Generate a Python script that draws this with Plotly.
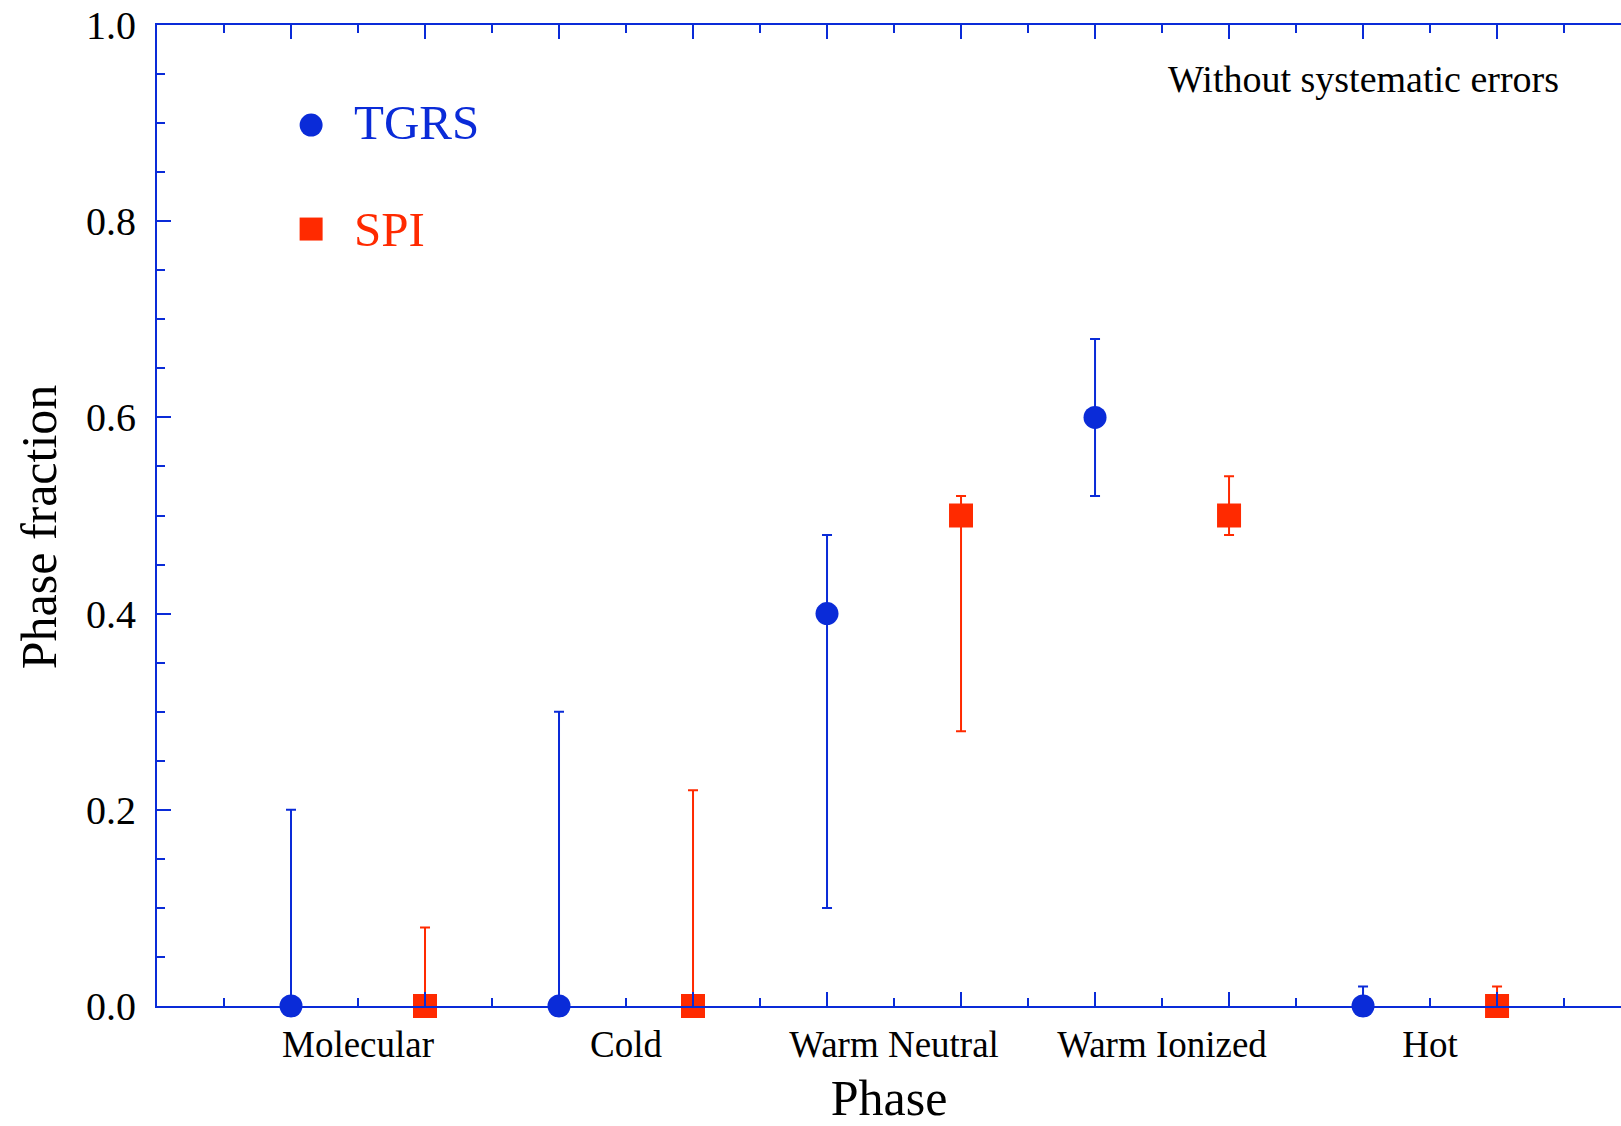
import plotly.graph_objects as go

# Phase categories and the x slots of each instrument's point within a category pair
phases = ["Molecular", "Cold", "Warm Neutral", "Warm Ionized", "Hot"]
tgrs_x = [1, 3, 5, 7, 9]
spi_x = [2, 4, 6, 8, 10]

# TGRS phase fractions with asymmetric uncertainties
tgrs_val = [0.0, 0.0, 0.40, 0.60, 0.0]
tgrs_err_plus = [0.20, 0.30, 0.08, 0.08, 0.02]
tgrs_err_minus = [0.0, 0.0, 0.30, 0.08, 0.0]

# SPI phase fractions with asymmetric uncertainties
spi_val = [0.0, 0.0, 0.50, 0.50, 0.0]
spi_err_plus = [0.08, 0.22, 0.02, 0.04, 0.02]
spi_err_minus = [0.0, 0.0, 0.22, 0.02, 0.0]

# Category label positions (between the two instruments) and y tick values
label_pos = [1.5, 3.5, 5.5, 7.5, 9.5]
y_ticks = [0.0, 0.2, 0.4, 0.6, 0.8, 1.0]

BLUE = "#0a2bd8"
RED = "#ff2a00"
AXIS = "#0a2bd8"
FONT = "Liberation Serif"

fig = go.Figure()

fig.add_trace(go.Scatter(
    x=tgrs_x, y=tgrs_val, mode="markers", name="TGRS",
    marker=dict(symbol="circle", size=23, color=BLUE, line=dict(width=0)),
    error_y=dict(type="data", symmetric=False, array=tgrs_err_plus,
                 arrayminus=tgrs_err_minus, color=BLUE, thickness=2, width=5),
    cliponaxis=False, showlegend=False,
))
fig.add_trace(go.Scatter(
    x=spi_x, y=spi_val, mode="markers", name="SPI",
    marker=dict(symbol="square", size=24, color=RED, line=dict(width=0)),
    error_y=dict(type="data", symmetric=False, array=spi_err_plus,
                 arrayminus=spi_err_minus, color=RED, thickness=2, width=5),
    cliponaxis=False, showlegend=False,
))

# Ticks every half unit on x; only the pair centres carry a phase name
half_vals = [i + 0.5 for i in range(11)]
half_text = []
for v in half_vals:
    half_text.append(phases[label_pos.index(v)] if v in label_pos else "")

fig.update_layout(
    width=1621, height=1126,
    margin=dict(l=157, r=0, t=25, b=120),
    paper_bgcolor="white", plot_bgcolor="white",
    font=dict(family=FONT, color="black", size=37),
    xaxis=dict(
        range=[0, 10.925], showgrid=False, zeroline=False, automargin=False,
        showline=True, linecolor=AXIS, linewidth=2, mirror="ticks",
        tickmode="array", tickvals=half_vals, ticktext=half_text,
        ticks="inside", ticklen=8, tickwidth=2, tickcolor=AXIS,
        ticklabelstandoff=5,
        tickfont=dict(family=FONT, size=37, color="black"),
        minor=dict(tickmode="array", tickvals=list(range(1, 11)),
                   ticks="inside", ticklen=14, tickwidth=2, tickcolor=AXIS),
        title=dict(text="Phase", font=dict(family=FONT, size=50, color="black"),
                   standoff=30),
    ),
    yaxis=dict(
        range=[0, 1], showgrid=False, zeroline=False, automargin=False,
        showline=True, linecolor=AXIS, linewidth=2, mirror=False,
        tickmode="array", tickvals=y_ticks,
        ticktext=[f"{v:.1f}" for v in y_ticks],
        ticks="inside", ticklen=14, tickwidth=2, tickcolor=AXIS,
        ticklabelstandoff=11,
        tickfont=dict(family=FONT, size=40, color="black"),
        minor=dict(dtick=0.05, tick0=0, ticks="inside", ticklen=8,
                   tickwidth=2, tickcolor=AXIS),
    ),
    yaxis2=dict(
        overlaying="y", side="right", range=[0, 1], showgrid=False,
        zeroline=False, showline=False, showticklabels=False,
        tickmode="array", tickvals=y_ticks[1:-1],
        ticks="inside", ticklen=3, tickwidth=2, tickcolor=AXIS,
    ),
)

# Y-axis title, set slightly below the axis midpoint
fig.add_annotation(x=-0.0806, y=0.488, xref="paper", yref="paper",
                   text="Phase fraction", textangle=-90, showarrow=False,
                   xanchor="center", yanchor="middle",
                   font=dict(family=FONT, size=50, color="black"))

# Key: symbol plus instrument name
key_items = [("TGRS", "circle", BLUE, 0.898, 0.901),
             ("SPI", "rect", RED, 0.792, 0.792)]
for name, shape, color, ky, ty in key_items:
    fig.add_shape(type=shape, xref="x", yref="y", xsizemode="pixel",
                  ysizemode="pixel", xanchor=1.15, yanchor=ky,
                  x0=-11.5, x1=11.5, y0=-11.5, y1=11.5,
                  fillcolor=color, line=dict(width=0))
    fig.add_annotation(x=1.452, y=ty, xref="x", yref="y", text=name,
                       showarrow=False, xanchor="left", yanchor="middle",
                       font=dict(family=FONT, size=49, color=color))

fig.add_annotation(x=0.9589, y=0.945, xref="paper", yref="paper",
                   text="Without systematic errors", showarrow=False,
                   xanchor="right", yanchor="middle",
                   font=dict(family=FONT, size=38, color="black"))

fig.write_html("out.html")
